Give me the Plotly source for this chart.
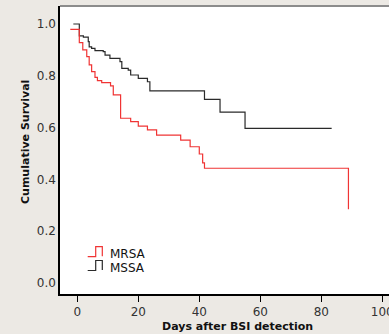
import plotly.graph_objects as go

# MSSA (black) Kaplan-Meier steps: times and survival after each step
mssa_t = [-1.3, 0.66, 2.0, 3.6, 3.9, 4.7, 5.8, 8.5, 9.1, 10.7, 14.0, 14.6, 16.7, 17.5, 20.0, 23.0, 23.8, 41.7, 46.8, 55.0, 83.4]
mssa_s = [1.0, 0.954, 0.949, 0.932, 0.912, 0.906, 0.897, 0.893, 0.880, 0.867, 0.855, 0.829, 0.822, 0.803, 0.790, 0.777, 0.742, 0.709, 0.660, 0.597, 0.597]

# MRSA (red)
mrsa_t = [-2.3, 0.66, 1.8, 3.1, 3.9, 4.7, 5.8, 6.6, 8.0, 10.9, 11.8, 14.2, 17.5, 20.0, 23.0, 26.0, 33.9, 37.0, 40.0, 41.1, 41.7, 88.9, 88.9]
mrsa_s = [0.979, 0.928, 0.90, 0.874, 0.842, 0.816, 0.794, 0.781, 0.774, 0.761, 0.726, 0.636, 0.623, 0.606, 0.591, 0.571, 0.552, 0.526, 0.498, 0.464, 0.443, 0.443, 0.285]

x_ticks = [0, 20, 40, 60, 80, 100]
y_ticks = [0.0, 0.2, 0.4, 0.6, 0.8, 1.0]
y_tick_text = ["0.0", "0.2", "0.4", "0.6", "0.8", "1.0"]

BG = "#ECE9E4"
RED = "#F03434"
BLACK = "#2A2A2A"
FONT = "DejaVu Sans"

fig = go.Figure()
fig.add_trace(go.Scatter(x=mssa_t, y=mssa_s, mode="lines", line=dict(color=BLACK, width=1.2, shape="hv"),
                         name="MSSA", showlegend=False, hoverinfo="skip"))
fig.add_trace(go.Scatter(x=mrsa_t, y=mrsa_s, mode="lines", line=dict(color=RED, width=1.2, shape="hv"),
                         name="MRSA", showlegend=False, hoverinfo="skip"))

# custom legend icons (step glyphs) in paper coords
W, H = 389, 334
L, R, T, B = 60, 0, 6, 40
pw, ph = W - L - R, H - T - B
def px(x):
    return (x - L) / pw
def py(y):
    return (H - B - y) / ph

for (ytop, color, label, ytxt) in [(246.7, RED, "MRSA", 254.3), (260.5, BLACK, "MSSA", 268.3)]:
    ybot = ytop + 10
    pts = [(87.7, ybot), (95.7, ybot), (95.7, ytop), (102.3, ytop), (102.3, ybot - 0.5)]
    path = "M " + " L ".join(f"{px(a):.5f},{py(b):.5f}" for a, b in pts)
    fig.add_shape(type="path", path=path, xref="paper", yref="paper",
                  line=dict(color=color, width=1.2))
    fig.add_annotation(x=px(107.5), y=py(ytxt), xref="paper", yref="paper", text=label,
                       showarrow=False, xanchor="left", yanchor="middle",
                       font=dict(family=FONT, size=12, color="#111111"))

# axis titles
fig.add_annotation(x=px(237.5), y=py(326.7), xref="paper", yref="paper", text="<b>Days after BSI detection</b>",
                   showarrow=False, xanchor="center", yanchor="middle",
                   font=dict(family=FONT, size=11, color="#111111"))
fig.add_annotation(x=px(25), y=py(142), xref="paper", yref="paper", text="<b>Cumulative Survival</b>",
                   showarrow=False, xanchor="center", yanchor="middle", textangle=-90,
                   font=dict(family=FONT, size=11, color="#111111"))

# top gray border
fig.add_shape(type="line", xref="paper", yref="paper", x0=0, x1=1, y0=1, y1=1,
              line=dict(color="#8C8C8C", width=2))

fig.update_layout(
    width=W, height=H,
    margin=dict(l=L, r=R, t=T, b=B),
    paper_bgcolor=BG, plot_bgcolor="white",
    font=dict(family=FONT, size=12, color="#333333"),
    showlegend=False,
)
fig.update_xaxes(range=[-5.67, 102.2], tickvals=x_ticks, ticks="outside", ticklen=6, tickcolor="black",
                 showgrid=False, zeroline=False, showline=True, linecolor="black", linewidth=1.5,
                 tickfont=dict(family=FONT, size=12, color="#333333"), automargin=False,
                 ticklabeloverflow="allow")
fig.update_yaxes(range=[-0.0425, 1.0695], tickvals=y_ticks, ticktext=y_tick_text, ticks="",
                 showgrid=False, zeroline=False, showline=True, linecolor="black", linewidth=1.5,
                 tickfont=dict(family=FONT, size=12, color="#333333"), automargin=False)

fig.write_html("out.html", config={"displayModeBar": False},
               post_script="document.body.style.margin='0';document.body.style.overflow='hidden';")
